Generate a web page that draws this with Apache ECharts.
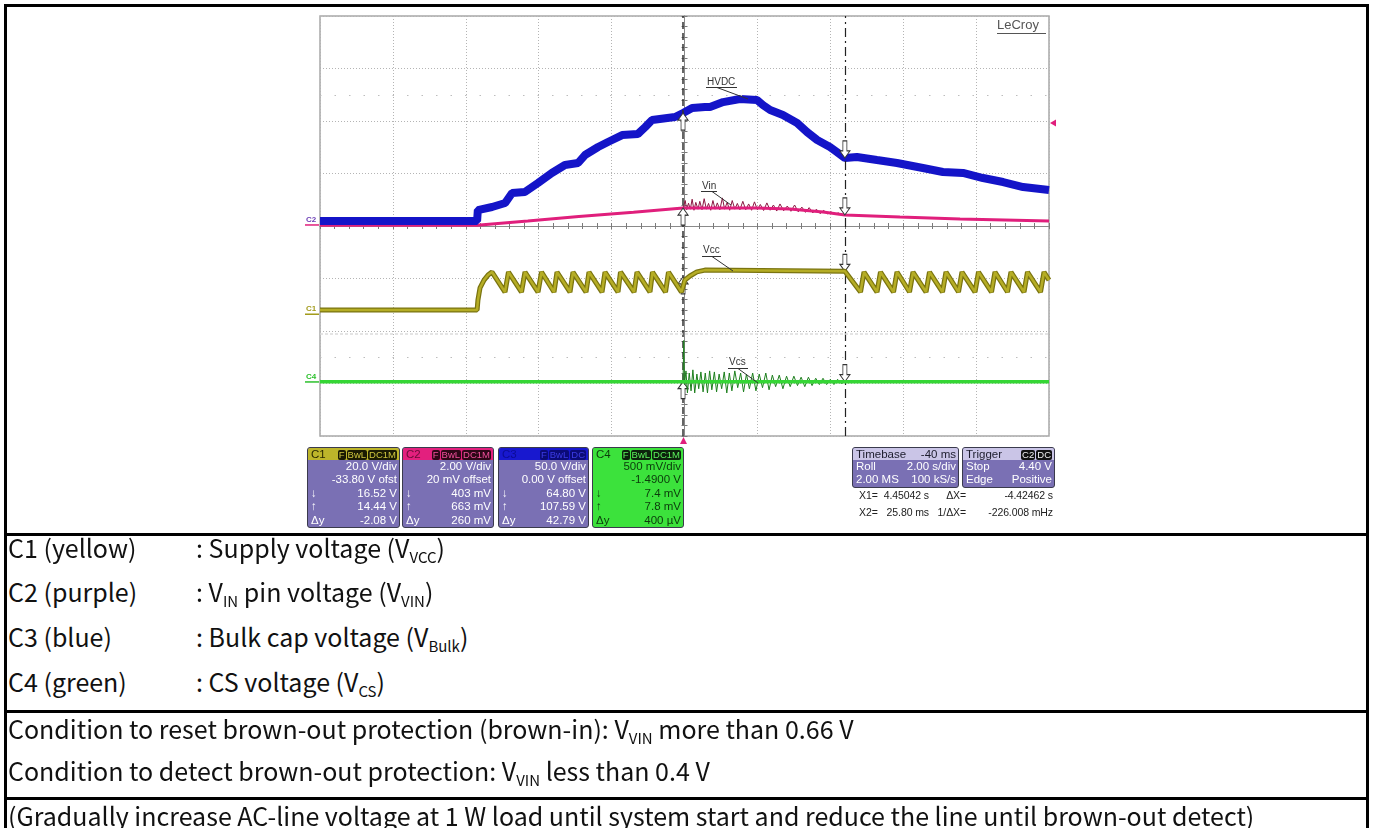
<!DOCTYPE html>
<html>
<head>
<meta charset="utf-8">
<script src="https://cdn.jsdelivr.net/npm/echarts@6.0.0/dist/echarts.min.js"></script>
<style>
html,body{margin:0;padding:0;background:#fff;}
body{width:1373px;height:828px;position:relative;overflow:hidden;}
#chart{position:absolute;left:0;top:0;width:1373px;height:534px;}
.ln{position:absolute;background:#000;}
.tx{position:absolute;font-family:"Noto Sans CJK JP","Noto Sans",sans-serif;font-size:25px;line-height:30px;height:30px;color:#111;white-space:nowrap;}
.s{font-size:15px;position:relative;top:5px;}
.box{position:absolute;box-sizing:border-box;border:1px solid #3a3a4c;border-radius:3px;overflow:hidden;font-family:"Liberation Sans",Arial,sans-serif;font-size:11.5px;}
.hd{height:12px;line-height:12px;display:flex;justify-content:space-between;align-items:center;padding:0 2px 0 3px;font-size:11.5px;}
.rw{height:13.4px;line-height:13.4px;display:flex;justify-content:space-between;padding:0 2px 0 3px;}
.tg{display:inline-block;height:10px;line-height:10px;padding:0 1px;margin-left:1px;border-radius:2px;font-size:9.5px;}
.cur{position:absolute;font-family:"Liberation Sans",Arial,sans-serif;font-size:10.5px;color:#222;line-height:14px;white-space:nowrap;letter-spacing:-0.1px;}
</style>
</head>
<body>
<div id="chart"></div>
<div id="boxes"></div>

<!-- table borders -->
<div class="ln" style="left:4px;top:4px;width:1365px;height:3px;"></div>
<div class="ln" style="left:4px;top:4px;width:3px;height:824px;"></div>
<div class="ln" style="left:1366px;top:4px;width:3px;height:824px;"></div>
<div class="ln" style="left:4px;top:533px;width:1365px;height:3px;"></div>
<div class="ln" style="left:4px;top:710px;width:1365px;height:3px;"></div>
<div class="ln" style="left:4px;top:797px;width:1365px;height:3px;"></div>

<div class="tx" style="left:8px;top:532px;">C1 (yellow)</div>
<div class="tx" style="left:196px;top:532px;">: Supply voltage (V<span class="s">VCC</span>)</div>
<div class="tx" style="left:8px;top:576px;">C2 (purple)</div>
<div class="tx" style="left:196px;top:576px;">: V<span class="s">IN</span> pin voltage (V<span class="s">VIN</span>)</div>
<div class="tx" style="left:8px;top:621px;">C3 (blue)</div>
<div class="tx" style="left:196px;top:621px;">: Bulk cap voltage (V<span class="s">Bulk</span>)</div>
<div class="tx" style="left:8px;top:666px;">C4 (green)</div>
<div class="tx" style="left:196px;top:666px;">: CS voltage (V<span class="s">CS</span>)</div>
<div class="tx" style="left:8px;top:713px;">Condition to reset brown-out protection (brown-in): V<span class="s">VIN</span> more than 0.66 V</div>
<div class="tx" style="left:8px;top:755px;">Condition to detect brown-out protection: V<span class="s">VIN</span> less than 0.4 V</div>
<div class="tx" style="left:8px;top:800px;">(Gradually increase AC-line voltage at 1 W load until system start and reduce the line until brown-out detect)</div>

<script>
// ---------------- data (time in s, values in volts) ----------------
const channelNames = ['C1', 'C2', 'C3', 'C4'];
const voltsPerDiv = [20, 2, 50, 0.5];
const offsetVolts = [-33.80, 0.02, 0.00, -1.49];
const cursorTimes = [-0.04, 4.40];
const cursorUp = [14.44, 0.663, 107.59, 0.0078];
const cursorDown = [16.52, 0.403, 64.80, 0.0074];

const c1Vcc = [[-10,1.8],[-5.69,1.8],[-5.667,5.6],[-5.61,10.2],[-5.50,13.2],[-5.39,15.1],[-5.281,16.27],
 [-4.925,8.65],[-4.829,16.27],[-4.472,8.65],[-4.376,16.27],[-4.019,8.65],[-3.923,16.27],[-3.580,8.65],
 [-3.498,16.27],[-3.141,8.65],[-3.059,16.27],[-2.702,8.65],[-2.620,16.27],[-2.263,8.65],[-2.181,16.27],
 [-1.824,8.65],[-1.756,16.27],[-1.385,8.65],[-1.303,16.27],[-0.947,8.65],[-0.878,16.27],[-0.521,8.65],
 [-0.439,16.27],[-0.082,8.65],[0.01,13.2],[0.15,14.75],[0.34,16.3],[0.56,17.0],[4.40,16.6],
 [4.829,8.65],[4.925,16.27],[5.281,8.65],[5.377,16.27],[5.734,8.65],[5.830,16.27],[6.173,8.65],[6.269,16.27],
 [6.626,8.65],[6.722,16.27],[7.078,8.65],[7.174,16.27],[7.517,8.65],[7.613,16.27],[7.970,8.65],[8.066,16.27],
 [8.423,8.65],[8.518,16.27],[8.861,8.65],[8.957,16.27],[9.314,8.65],[9.410,16.27],[9.767,8.65],[9.863,16.27],[10.0,13.2]];

const c2Vin = [[-10,0.01],[-5.69,0.01],[-4.3,0.17],[-2.9,0.34],[-1.4,0.50],[-0.04,0.666],[0.97,0.67],[1.99,0.67],
 [2.89,0.628],[3.80,0.513],[4.40,0.40],[5.91,0.323],[7.56,0.247],[10.0,0.17]];
const c2VinNoise = [[-0.04,0.66],[0.02,0.95],[0.06,0.60],[0.11,0.85],[0.16,0.62],[0.21,1.00],[0.26,0.58],[0.31,0.88],
 [0.37,0.62],[0.42,0.92],[0.48,0.60],[0.54,1.02],[0.60,0.62],[0.66,0.84],[0.72,0.58],[0.78,0.95],[0.84,0.62],
 [0.90,0.86],[0.97,0.60],[1.04,1.05],[1.10,0.62],[1.17,0.88],[1.24,0.58],[1.31,0.95],[1.38,0.62],[1.45,0.84],
 [1.52,0.60],[1.60,0.92],[1.68,0.60],[1.76,0.82],[1.84,0.58],[1.92,0.90],[2.00,0.60],[2.08,0.80],[2.17,0.57],
 [2.26,0.86],[2.35,0.58],[2.44,0.78],[2.53,0.55],[2.62,0.82],[2.72,0.56],[2.82,0.74],[2.92,0.54],[3.02,0.78],
 [3.12,0.52],[3.22,0.70],[3.32,0.50],[3.42,0.68],[3.52,0.48],[3.62,0.62],[3.72,0.45],[3.82,0.58],[3.92,0.44],
 [4.02,0.52],[4.12,0.42],[4.22,0.48],[4.32,0.40],[4.40,0.42]];

const c3Bulk = [[-10.00,4.8],[-5.69,4.8],[-5.67,15.2],[-5.28,18.1],[-4.92,21.9],[-4.73,31.4],[-4.38,32.4],[-4.02,40.9],
 [-3.64,50.5],[-3.28,58.1],[-2.92,60.0],[-2.73,67.6],[-2.37,75.2],[-2.10,80.0],[-1.71,86.6],[-1.28,87.6],[-1.08,94.2],
 [-0.89,100.9],[-0.26,103.8],[-0.04,107.6],[0.21,112.3],[0.56,113.3],[0.70,113.3],[1.06,118.0],[1.52,120.9],[1.99,120.0],
 [2.15,115.2],[2.35,110.4],[2.70,105.7],[3.09,98.1],[3.36,89.5],[3.64,81.9],[3.99,75.2],[4.18,70.5],[4.40,64.8],
 [4.73,65.7],[5.28,62.8],[5.83,60.0],[6.54,55.2],[7.09,51.4],[7.64,50.5],[8.19,45.7],[8.74,41.9],[9.29,37.1],[10.00,34.3]];

const c4Cs = [[-10,0.0075],[-0.04,0.0075],[4.40,0.0075],[10,0.0075]];
const c4CsNoise = [[-0.04,0.005],[-0.02,0.40],[0.00,-0.02],[0.04,0.11],[0.08,-0.10],[0.13,0.09],[0.18,-0.08],[0.23,0.12],
 [0.28,-0.10],[0.34,0.08],[0.39,-0.06],[0.45,0.10],[0.51,-0.09],[0.57,0.09],[0.63,-0.10],[0.69,0.11],[0.75,-0.07],
 [0.82,0.10],[0.88,-0.09],[0.95,0.08],[1.02,-0.06],[1.09,0.10],[1.16,-0.10],[1.23,0.09],[1.30,-0.08],[1.38,0.11],
 [1.46,-0.05],[1.54,0.09],[1.62,-0.09],[1.70,0.08],[1.78,-0.06],[1.87,0.09],[1.96,-0.08],[2.05,0.08],[2.14,-0.05],
 [2.23,0.09],[2.32,-0.07],[2.41,0.07],[2.50,-0.04],[2.60,0.07],[2.70,-0.06],[2.80,0.06],[2.90,-0.04],[3.00,0.06],
 [3.10,-0.03],[3.20,0.05],[3.30,-0.04],[3.40,0.05],[3.50,-0.03],[3.60,0.04],[3.70,-0.02],[3.80,0.04],[3.90,-0.02],
 [4.00,0.03],[4.10,-0.02],[4.20,0.03],[4.30,-0.01],[4.40,0.01]];

// readouts (text)
const c1Readout = [['','20.0 V/div'],['','-33.80 V ofst'],['\u2193','16.52 V'],['\u2191','14.44 V'],['\u0394y','-2.08 V']];
const c2Readout = [['','2.00 V/div'],['','20 mV offset'],['\u2193','403 mV'],['\u2191','663 mV'],['\u0394y','260 mV']];
const c3Readout = [['','50.0 V/div'],['','0.00 V offset'],['\u2193','64.80 V'],['\u2191','107.59 V'],['\u0394y','42.79 V']];
const c4Readout = [['','500 mV/div'],['','-1.4900 V'],['\u2193','7.4 mV'],['\u2191','7.8 mV'],['\u0394y','400 \u00b5V']];
const timebaseRows = [['Roll','2.00 s/div'],['2.00 MS','100 kS/s']];
const triggerRows = [['Stop','4.40 V'],['Edge','Positive']];
const cursorText = [['X1=','4.45042 s','\u0394X=','-4.42462 s'],['X2=','25.80 ms','1/\u0394X=','-226.008 mHz']];

// ---------------- info boxes (HTML) ----------------
const infoBoxes = [
  {left:307, width:93, title:'C1', tags:['F','BwL','DC1M'], hdBg:'#bdb52a', hdFg:'#2a2800', tagBg:'#1a1a02', tagFg:'#cdc43e', bodyBg:'#7a70b4', bodyFg:'#fff', rows:c1Readout},
  {left:402, width:92, title:'C2', tags:['F','BwL','DC1M'], hdBg:'#e3207e', hdFg:'#6a0c38', tagBg:'#2e0718', tagFg:'#f0509c', bodyBg:'#7a70b4', bodyFg:'#fff', rows:c2Readout},
  {left:498, width:91, title:'C3', tags:['F','BwL','DC'], hdBg:'#1818cf', hdFg:'#0c0c96', tagBg:'#0b0b78', tagFg:'#3c3ce4', bodyBg:'#7a70b4', bodyFg:'#fff', rows:c3Readout},
  {left:592, width:92, title:'C4', tags:['F','BwL','DC1M'], hdBg:'#3ce23c', hdFg:'#0b3d0b', tagBg:'#0c220c', tagFg:'#5cf05c', bodyBg:'#3ce23c', bodyFg:'#0b3a0b', rows:c4Readout},
  {left:852, width:107, title:'Timebase', right:'-40 ms', hdBg:'#cac5e7', hdFg:'#1c1c2c', bodyBg:'#7a70b4', bodyFg:'#fff', rows:timebaseRows},
  {left:962, width:93, title:'Trigger', tags:['C2','DC'], hdBg:'#cac5e7', hdFg:'#1c1c2c', tagBg:'#111', tagFg:'#eee', bodyBg:'#7a70b4', bodyFg:'#fff', rows:triggerRows}
];
(function buildBoxes(){
  const root = document.getElementById('boxes');
  let html = '';
  infoBoxes.forEach(b => {
    let right = b.right ? '<span>' + b.right + '</span>' :
      '<span>' + b.tags.map(t => '<span class="tg" style="background:' + b.tagBg + ';color:' + b.tagFg + '">' + t + '</span>').join('') + '</span>';
    html += '<div class="box" style="left:' + b.left + 'px;top:447px;width:' + b.width + 'px;background:' + b.bodyBg + ';color:' + b.bodyFg + '">';
    html += '<div class="hd" style="background:' + b.hdBg + ';color:' + b.hdFg + '"><span>' + b.title + '</span>' + right + '</div>';
    b.rows.forEach(r => { html += '<div class="rw"><span>' + r[0] + '</span><span>' + r[1] + '</span></div>'; });
    html += '</div>';
  });
  // cursor text lines
  const ys = [488, 505];
  cursorText.forEach((r, i) => {
    html += '<div class="cur" style="left:859px;top:' + ys[i] + 'px;">' + r[0] + '</div>';
    html += '<div class="cur" style="right:' + (1373 - 929) + 'px;top:' + ys[i] + 'px;">' + r[1] + '</div>';
    html += '<div class="cur" style="right:' + (1373 - 966) + 'px;top:' + ys[i] + 'px;">' + r[2] + '</div>';
    html += '<div class="cur" style="right:' + (1373 - 1053) + 'px;top:' + ys[i] + 'px;">' + r[3] + '</div>';
  });
  root.innerHTML = html;
})();

// ---------------- chart ----------------
function toDiv(i, v) { return (v + offsetVolts[i]) / voltsPerDiv[i]; }
function conv(i, arr) { return arr.map(p => [p[0], toDiv(i, p[1])]); }

const upArrow = 'path://M5,0L10,7L7,7L7,17L3,17L3,7L0,7Z';
const downArrow = 'path://M3,0L7,0L7,10L10,10L5,17L0,10L3,10Z';
const arrowData = [];
for (let i = 0; i < 4; i++) {
  arrowData.push({coord:[cursorTimes[0], toDiv(i, cursorUp[i])], symbol:upArrow, symbolOffset:[0,'50%']});
  arrowData.push({coord:[cursorTimes[1], toDiv(i, cursorDown[i])], symbol:downArrow, symbolOffset:[0,'-50%']});
}

function trace(name, data, color, width, z) {
  return {name, type:'line', data, showSymbol:false, symbol:'none', silent:true, animation:false, z,
    lineStyle:{color, width, join:'bevel'}, clip:true};
}

const chart = echarts.init(document.getElementById('chart'), null, {renderer:'canvas'});
const tickStyle = {color:'#7a7a7a', width:1};
const baseX = {type:'value', min:-10, max:10, interval:2, axisLabel:{show:false},
  axisLine:{show:true, onZero:true, onZeroAxisIndex:0, lineStyle:{color:'#8a8a8a', width:1}},
  axisTick:{show:true, length:3, lineStyle:tickStyle},
  minorTick:{show:true, splitNumber:5, length:3, lineStyle:tickStyle}};
const baseY = {type:'value', min:-4, max:4, interval:1, axisLabel:{show:false},
  axisLine:{show:true, onZero:true, onZeroAxisIndex:0, lineStyle:{color:'#8a8a8a', width:1}},
  axisTick:{show:true, length:3, lineStyle:tickStyle},
  minorTick:{show:true, splitNumber:5, length:3, lineStyle:tickStyle}};

chart.setOption({
  animation:false,
  grid:{left:320, top:16, width:729, height:420, show:true, borderColor:'#a8a8a8', borderWidth:1.5, outerBoundsMode:'none', containLabel:false},
  xAxis:[
    Object.assign({}, baseX, {position:'bottom', splitLine:{show:true, lineStyle:{color:'#b4b4b4', type:[1,2], width:1}}}),
    Object.assign({}, baseX, {position:'top', splitLine:{show:false}})
  ],
  yAxis:[
    Object.assign({}, baseY, {position:'left', splitLine:{show:true, lineStyle:{color:'#b4b4b4', type:[1,2], width:1}}}),
    Object.assign({}, baseY, {position:'right', splitLine:{show:false}})
  ],
  series:[
    {name:'cursors', type:'line', data:[], z:1, silent:true, animation:false,
      markLine:{silent:true, symbol:'none', animation:false, label:{show:false},
        data:[
          {xAxis:cursorTimes[0], lineStyle:{color:'#333', width:1.5, type:[7,4]}},
          {xAxis:cursorTimes[1], lineStyle:{color:'#222', width:1.2, type:[9,4,2,4]}},
          {yAxis:2.5, lineStyle:{color:'#bdbdbd', width:1, type:[1.5,13]}},
          {yAxis:-2.5, lineStyle:{color:'#bdbdbd', width:1, type:[1.5,13]}},
          {yAxis:-2.06, lineStyle:{color:'#dcdcdc', width:1.5, type:[3,2]}}
        ]}},
    trace('C2 noise', conv(1, c2VinNoise), '#8a1640', 1, 2),
    trace('C2 Vin', conv(1, c2Vin), '#e01f7c', 3, 3),
    trace('C3 HVDC', conv(2, c3Bulk), '#1414c8', 8, 4),
    trace('C1 edge', conv(0, c1Vcc), '#7a7410', 5, 5),
    trace('C1 Vcc', conv(0, c1Vcc), '#b5ad25', 2.5, 6),
    trace('C4 noise', conv(3, c4CsNoise), '#1d7f1d', 1, 7),
    trace('C4 Vcs', conv(3, c4Cs), '#35d635', 3.5, 8),
    {name:'arrows', type:'line', data:[], z:10, silent:true, animation:false,
      markPoint:{silent:true, animation:false, symbolSize:[10,17], label:{show:false},
        itemStyle:{color:'#ffffff', borderColor:'#333', borderWidth:1}, data:arrowData}}
  ]
});

// annotation graphics
const g = [];
function txt(x, y, s, color, font) {
  g.push({type:'text', x, y, silent:true, z:20, style:{text:s, fill:color, font, textAlign:'left', textVerticalAlign:'top', align:'left', verticalAlign:'top'}});
}
function seg(x1, y1, x2, y2, color, w) {
  g.push({type:'line', silent:true, z:20, shape:{x1, y1, x2, y2}, style:{stroke:color, lineWidth:w || 1}});
}
const lf = '10px "Liberation Sans", Arial, sans-serif';
txt(707, 77, 'HVDC', '#333', lf); seg(706, 87.5, 737, 87.5, '#333'); seg(717, 87.5, 748, 99, '#333');
txt(702, 181, 'Vin', '#333', lf); seg(701, 191.5, 717, 191.5, '#333'); seg(712, 191.5, 731, 205, '#333');
txt(703, 245, 'Vcc', '#333', lf); seg(702, 256.5, 721, 256.5, '#333'); seg(712, 256.5, 733, 271, '#333');
txt(729, 357, 'Vcs', '#333', lf); seg(728, 368.5, 748, 368.5, '#333'); seg(738, 368.5, 758, 383, '#333');
txt(997, 19, 'LeCroy', '#555', '13px "Liberation Sans", Arial, sans-serif'); seg(997, 33.5, 1046, 33.5, '#555');
// channel ground markers at each channel's 0 V level
const chanLabels = [{i:1, color:'#6b3db5', under:'#e01f7c'}, {i:0, color:'#a39b1c', under:'#a39b1c'}, {i:3, color:'#2cc02c', under:'#2cc02c'}];
chanLabels.forEach(c => {
  const py = chart.convertToPixel({yAxisIndex:0}, toDiv(c.i, 0));
  txt(306, py - 10, channelNames[c.i], c.color, 'bold 8px "Liberation Sans", Arial, sans-serif');
  seg(305, py - 0.5, 319, py - 0.5, c.under, 1.5);
});
// trigger markers
g.push({type:'polygon', silent:true, z:20, shape:{points:[[1050,123],[1056,119.5],[1056,126.5]]}, style:{fill:'#e01f7c'}});
g.push({type:'polygon', silent:true, z:20, shape:{points:[[683.5,437],[680,444],[687,444]]}, style:{fill:'#e01f7c'}});
chart.setOption({graphic:g});
</script>
</body>
</html>
